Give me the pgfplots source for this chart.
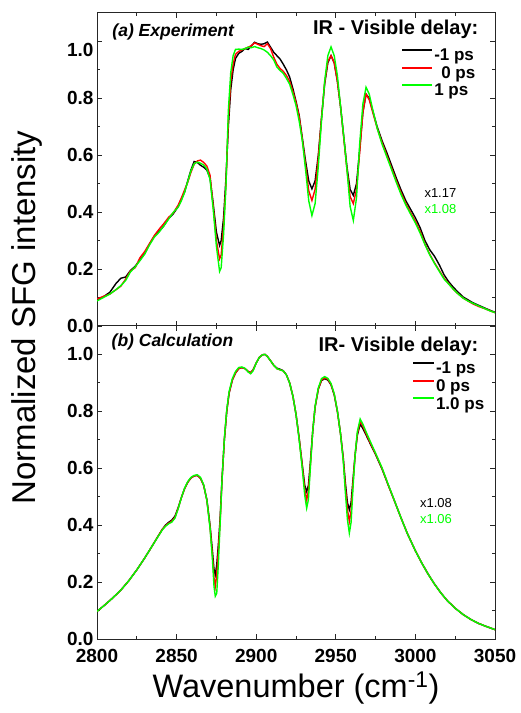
\documentclass[border=0pt]{standalone}
\usepackage{fontspec}
\setmainfont{Liberation Sans}
\usepackage{pgfplots}
\usepackage{pgfplotstable}
\pgfplotsset{compat=1.18}

\pgfplotstableread{
x k r g
2800 0.092 0.095 0.088
2804 0.103 0.104 0.100
2808 0.118 0.112 0.112
2812 0.150 0.128 0.128
2815 0.168 0.140 0.142
2818 0.172 0.165 0.160
2821 0.195 0.193 0.190
2824 0.210 0.205 0.208
2827 0.232 0.240 0.230
2830 0.255 0.262 0.253
2833 0.288 0.290 0.285
2836 0.315 0.318 0.312
2839 0.332 0.340 0.330
2842 0.352 0.360 0.352
2845 0.378 0.382 0.376
2848 0.395 0.398 0.400
2851 0.420 0.425 0.418
2853 0.445 0.450 0.440
2855 0.470 0.478 0.470
2857 0.510 0.505 0.508
2859 0.548 0.540 0.545
2861 0.578 0.568 0.570
2863 0.575 0.580 0.576
2865 0.565 0.583 0.572
2867 0.558 0.575 0.566
2869 0.548 0.562 0.552
2871 0.520 0.530 0.515
2873 0.430 0.420 0.410
2875 0.330 0.300 0.280
2877 0.283 0.236 0.192
2878 0.300 0.250 0.205
2879.5 0.380 0.350 0.320
2881 0.520 0.500 0.490
2882.5 0.700 0.720 0.757
2884 0.830 0.860 0.890
2885.5 0.900 0.920 0.950
2887 0.940 0.955 0.972
2889 0.958 0.965 0.973
2891 0.965 0.970 0.972
2893 0.975 0.975 0.975
2895 0.972 0.980 0.980
2897 0.985 0.985 0.978
2899 0.997 0.995 0.982
2901 0.992 0.990 0.978
2903 0.990 0.985 0.975
2905 0.992 0.982 0.970
2907 0.998 0.992 0.962
2909 0.980 0.975 0.950
2911 0.962 0.945 0.935
2913 0.950 0.920 0.910
2915 0.938 0.905 0.898
2917 0.920 0.895 0.888
2919 0.900 0.880 0.870
2921 0.875 0.860 0.850
2923 0.835 0.825 0.815
2925 0.790 0.785 0.775
2927 0.740 0.735 0.720
2929 0.660 0.655 0.650
2931 0.580 0.565 0.550
2933 0.510 0.475 0.440
2935 0.482 0.441 0.388
2937 0.510 0.480 0.430
2939 0.600 0.590 0.560
2941 0.730 0.730 0.720
2943 0.850 0.855 0.860
2945 0.925 0.930 0.950
2947 0.950 0.950 0.981
2949 0.925 0.925 0.950
2951 0.860 0.860 0.880
2953 0.770 0.770 0.770
2955 0.665 0.660 0.665
2957 0.560 0.550 0.550
2959 0.480 0.455 0.420
2961 0.459 0.430 0.371
2963 0.500 0.480 0.450
2965 0.620 0.610 0.640
2967 0.750 0.750 0.780
2969 0.815 0.815 0.839
2971 0.800 0.795 0.815
2973 0.760 0.755 0.765
2976 0.700 0.695 0.695
2979 0.652 0.645 0.640
2982 0.610 0.600 0.595
2985 0.565 0.555 0.550
2988 0.520 0.510 0.505
2991 0.478 0.468 0.462
2994 0.440 0.430 0.425
2997 0.410 0.398 0.393
3000 0.380 0.368 0.362
3003 0.345 0.332 0.326
3006 0.300 0.288 0.286
3009 0.268 0.252 0.250
3012 0.245 0.222 0.220
3015 0.215 0.195 0.192
3018 0.180 0.168 0.165
3021 0.155 0.148 0.147
3024 0.135 0.128 0.128
3027 0.118 0.112 0.112
3030 0.102 0.098 0.098
3033 0.092 0.088 0.088
3036 0.082 0.078 0.080
3040 0.072 0.068 0.070
3044 0.062 0.060 0.060
3047 0.055 0.053 0.053
3050 0.048 0.047 0.047
}\topdata

\pgfplotstableread{
x k r g
2800 0.097 0.097 0.097
2805 0.120 0.120 0.120
2810 0.145 0.145 0.145
2815 0.172 0.172 0.172
2820 0.205 0.205 0.205
2825 0.243 0.243 0.243
2830 0.285 0.285 0.285
2835 0.330 0.330 0.330
2838 0.358 0.358 0.357
2841 0.385 0.385 0.383
2843 0.400 0.398 0.396
2845 0.410 0.407 0.405
2847 0.418 0.414 0.411
2849 0.432 0.428 0.425
2851 0.462 0.460 0.458
2853 0.497 0.497 0.497
2855 0.528 0.528 0.530
2857 0.551 0.551 0.553
2859 0.566 0.566 0.568
2861 0.573 0.573 0.575
2863 0.575 0.575 0.577
2865 0.565 0.565 0.568
2867 0.540 0.540 0.542
2869 0.490 0.488 0.488
2871 0.400 0.395 0.390
2872.5 0.310 0.295 0.280
2873.5 0.245 0.215 0.185
2874.3 0.226 0.185 0.150
2875.2 0.260 0.225 0.160
2876.2 0.330 0.310 0.260
2877.3 0.420 0.410 0.400
2878.5 0.560 0.555 0.555
2880 0.700 0.700 0.705
2881.5 0.800 0.800 0.805
2883 0.865 0.865 0.870
2885 0.910 0.910 0.915
2887 0.935 0.935 0.940
2889 0.950 0.950 0.954
2891 0.954 0.954 0.956
2893 0.950 0.950 0.951
2895 0.940 0.940 0.938
2896.5 0.936 0.936 0.932
2898 0.945 0.945 0.942
2900 0.970 0.970 0.970
2902 0.990 0.990 0.990
2904 0.999 0.999 0.999
2905.5 1.000 1.000 1.000
2907 0.993 0.993 0.993
2909 0.978 0.978 0.978
2911 0.962 0.962 0.962
2913 0.952 0.950 0.950
2915 0.948 0.946 0.946
2917 0.943 0.942 0.942
2919 0.928 0.928 0.928
2921 0.900 0.900 0.900
2923 0.855 0.855 0.855
2925 0.790 0.790 0.790
2927 0.705 0.705 0.700
2929 0.610 0.605 0.595
2930.5 0.540 0.525 0.505
2931.7 0.518 0.489 0.460
2932.8 0.540 0.520 0.490
2934 0.620 0.610 0.600
2935.5 0.730 0.730 0.730
2937 0.815 0.815 0.818
2939 0.878 0.878 0.882
2941 0.908 0.910 0.915
2943 0.915 0.918 0.922
2945 0.910 0.913 0.916
2947 0.893 0.895 0.898
2949 0.858 0.860 0.862
2951 0.800 0.800 0.802
2953 0.720 0.720 0.720
2954.7 0.636 0.632 0.625
2956 0.550 0.535 0.515
2957.3 0.480 0.455 0.420
2958.5 0.454 0.413 0.372
2959.6 0.480 0.450 0.410
2960.8 0.560 0.550 0.530
2962.1 0.645 0.645 0.645
2963.5 0.715 0.720 0.728
2965.3 0.755 0.765 0.773
2967 0.740 0.748 0.755
2969 0.717 0.722 0.728
2972 0.682 0.685 0.690
2975 0.648 0.650 0.653
2979 0.598 0.600 0.602
2983 0.540 0.540 0.542
2987 0.483 0.483 0.484
2991 0.425 0.425 0.425
2995 0.370 0.370 0.370
3000 0.310 0.310 0.310
3004 0.267 0.267 0.267
3008 0.228 0.228 0.228
3012 0.193 0.193 0.193
3016 0.162 0.162 0.162
3020 0.135 0.135 0.135
3025 0.108 0.108 0.108
3030 0.086 0.086 0.086
3035 0.068 0.068 0.068
3040 0.054 0.054 0.054
3045 0.043 0.043 0.043
3050 0.033 0.033 0.033
}\botdata

\definecolor{lgreen}{RGB}{0,255,0}
\definecolor{lred}{RGB}{255,0,0}

\begin{document}
\begin{tikzpicture}
\pgfplotsset{
  panel/.style={
    width=398pt, height=313pt, scale only axis,
    xmin=2800, xmax=3050, ymin=0, ymax=1.1,
    xtick={2800,2850,2900,2950,3000,3050}, minor x tick num=1,
    ytick={0,0.2,0.4,0.6,0.8,1.0}, minor y tick num=1,
    tick align=inside, tick pos=both,
    major tick length=5pt, minor tick length=3pt,
    axis line style={line width=1pt, black!85},
    every tick/.style={line width=0.9pt, black!85},
    tick label style={font=\fontsize{19}{19}\selectfont\bfseries},
    xticklabel style={yshift=-7pt},
    /pgf/number format/assume math mode=true,
    clip=true,
    legend cell align=left,
  },
  curve/.style={line width=1.4pt},
}
% ---------------- (a) Experiment ----------------
\begin{axis}[panel, name=top,
  xticklabels={},
  yticklabels={0.0,0.2,0.4,0.6,0.8,\raisebox{-8.5pt}[\height][\depth]{1.0}},
  legend image code/.code={\path (0pt,0pt); \draw[#1, line width=2pt] (0pt,5.5pt) -- (30pt,5.5pt);},
  legend style={at={(0.764,0.889)}, anchor=north west, draw=none, fill=none,
    inner sep=0pt, row sep=2.4pt, column sep=0pt,
    font=\fontsize{17}{17}\selectfont\bfseries,
    nodes={inner sep=1pt}},
]
\addplot[curve, black] table[x=x, y=k] {\topdata};
\addplot[curve, lred] table[x=x, y=r] {\topdata};
\addplot[curve, lgreen] table[x=x, y=g] {\topdata};
\legend{-1 ps, \hspace{7pt}0 ps, 1 ps}
\node[anchor=west, font=\fontsize{17.5}{17.5}\selectfont\bfseries\itshape] at (rel axis cs:0.030,0.940) {(a) Experiment};
\node[anchor=east, font=\fontsize{20}{20}\selectfont\bfseries] at (rel axis cs:0.967,0.947) {IR - Visible delay:};
\node[anchor=west, font=\fontsize{13}{13}\selectfont, text=black] at (rel axis cs:0.814,0.426) {x1.17};
\node[anchor=west, font=\fontsize{13}{13}\selectfont, text=lgreen] at (rel axis cs:0.814,0.374) {x1.08};
\end{axis}
% ---------------- (b) Calculation ----------------
\begin{axis}[panel, name=bot, at={(top.south west)}, anchor=north west,
  xticklabels={2800,2850,2900,2950,3000,3050},
  yticklabels={0.0,0.2,0.4,0.6,0.8,1.0},
  legend image code/.code={\path (0pt,0pt); \draw[#1, line width=2pt] (0pt,5.5pt) -- (21pt,5.5pt);},
  legend style={at={(0.791,0.889)}, anchor=north west, draw=none, fill=none,
    inner sep=0pt, row sep=2.4pt, column sep=0pt,
    font=\fontsize{17}{17}\selectfont\bfseries,
    nodes={inner sep=1pt}},
]
\addplot[curve, black] table[x=x, y=k] {\botdata};
\addplot[curve, lred] table[x=x, y=r] {\botdata};
\addplot[curve, lgreen] table[x=x, y=g] {\botdata};
\legend{-1 ps, 0 ps, 1.0 ps}
\node[anchor=west, font=\fontsize{17.5}{17.5}\selectfont\bfseries\itshape] at (rel axis cs:0.028,0.948) {(b) Calculation};
\node[anchor=east, font=\fontsize{20}{20}\selectfont\bfseries] at (rel axis cs:0.967,0.935) {IR- Visible delay:};
\node[anchor=west, font=\fontsize{13}{13}\selectfont, text=black] at (rel axis cs:0.803,0.436) {x1.08};
\node[anchor=west, font=\fontsize{13}{13}\selectfont, text=lgreen] at (rel axis cs:0.803,0.384) {x1.06};
\end{axis}
% axis titles
\node[rotate=90, anchor=base, font=\fontsize{33}{33}\selectfont] at ([xshift=-61pt,yshift=8.5pt]top.south west) {Normalized SFG intensity};
\node[anchor=base, font=\fontsize{32.5}{32.5}\selectfont] at ([yshift=-58pt]bot.south) {Wavenumber (cm\textsuperscript{-1})};
\pgfresetboundingbox
\path[use as bounding box] ([xshift=-97pt,yshift=13pt]top.north west) rectangle ([xshift=25pt,yshift=-74pt]bot.south east);
\end{tikzpicture}
\end{document}
